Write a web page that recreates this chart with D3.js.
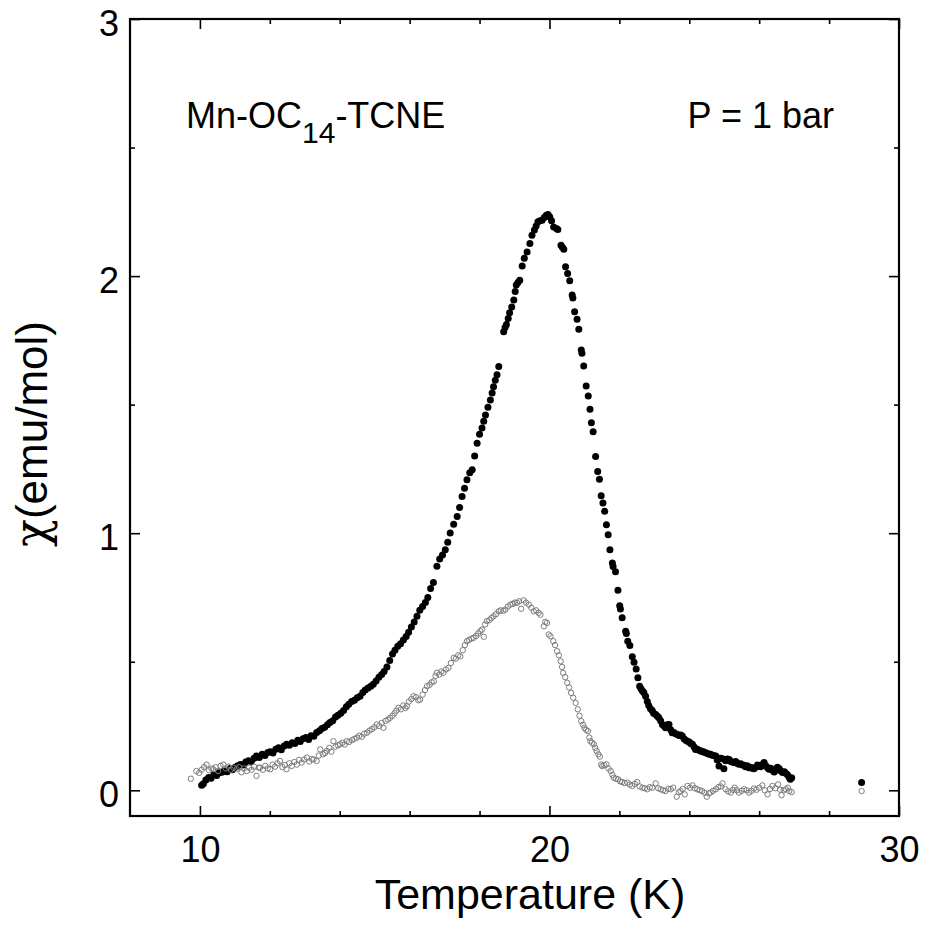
<!DOCTYPE html>
<html><head><meta charset="utf-8">
<script src="https://cdn.jsdelivr.net/npm/d3@7"></script>
<style>body{margin:0;background:#fff}svg{display:block}text{font-family:"Liberation Sans",Arial,sans-serif;fill:#000}</style>
</head><body>
<svg id="c" width="926" height="936"></svg>
<script>
// ---- data: [Temperature (K), chi (emu/mol)] ----
const chiFilled = [
[10.05,0.020],[10.10,0.025],[10.17,0.040],[10.25,0.050],[10.32,0.047],[10.40,0.060],[10.48,0.058],[10.55,0.068],[10.63,0.070],[10.70,0.075],
[10.78,0.072],[10.86,0.085],[10.93,0.080],[11.01,0.090],[11.08,0.095],[11.16,0.100],[11.24,0.098],[11.31,0.110],[11.39,0.115],[11.47,0.112],
[11.55,0.125],[11.62,0.133],[11.70,0.128],[11.78,0.140],[11.86,0.135],[11.94,0.147],[12.01,0.150],[12.09,0.145],[12.17,0.160],[12.25,0.165],
[12.33,0.158],[12.41,0.172],[12.48,0.179],[12.56,0.175],[12.64,0.185],[12.72,0.182],[12.80,0.195],[12.87,0.190],[12.95,0.200],[13.03,0.205],
[13.11,0.198],[13.18,0.212],[13.26,0.210],[13.34,0.225],[13.42,0.232],[13.49,0.240],[13.57,0.245],[13.65,0.255],[13.72,0.264],[13.80,0.270],
[13.88,0.285],[13.95,0.292],[14.03,0.300],[14.11,0.310],[14.19,0.325],[14.26,0.335],[14.34,0.345],[14.42,0.350],[14.50,0.360],[14.58,0.366],
[14.66,0.380],[14.73,0.390],[14.81,0.398],[14.89,0.405],[14.96,0.412],[15.04,0.425],[15.12,0.440],[15.20,0.450],[15.27,0.462],[15.35,0.480],
[15.43,0.505],[15.51,0.530],[15.58,0.545],[15.66,0.560],[15.74,0.570],[15.82,0.585],[15.90,0.598],[15.97,0.615],[16.05,0.635],[16.13,0.655],
[16.21,0.677],[16.29,0.700],[16.37,0.715],[16.45,0.730],[16.52,0.750],[16.60,0.785],[16.68,0.808],[16.78,0.871],[16.86,0.900],[16.94,0.915],
[17.02,0.936],[17.09,0.965],[17.16,1.001],[17.26,1.035],[17.36,1.065],[17.43,1.100],[17.50,1.143],[17.57,1.175],[17.64,1.208],[17.72,1.235],
[17.79,1.247],[17.86,1.300],[17.93,1.350],[18.00,1.385],[18.07,1.409],[18.12,1.435],[18.17,1.460],[18.24,1.490],[18.31,1.518],[18.36,1.545],
[18.40,1.570],[18.45,1.595],[18.50,1.616],[18.55,1.648],[18.69,1.784],[18.73,1.800],[18.77,1.812],[18.82,1.835],[18.86,1.857],[18.92,1.880],
[18.98,1.907],[19.02,1.940],[19.05,1.965],[19.10,1.975],[19.15,1.984],[19.22,2.039],[19.28,2.069],[19.36,2.094],[19.44,2.127],[19.50,2.159],
[19.57,2.179],[19.62,2.195],[19.67,2.211],[19.73,2.215],[19.79,2.217],[19.85,2.228],[19.91,2.237],[19.96,2.240],[20.01,2.230],[20.06,2.215],
[20.12,2.191],[20.20,2.185],[20.24,2.181],[20.33,2.120],[20.37,2.112],[20.41,2.104],[20.46,2.036],[20.52,2.010],[20.58,1.982],[20.65,1.926],
[20.67,1.915],[20.72,1.861],[20.79,1.832],[20.84,1.793],[20.91,1.713],[20.93,1.700],[20.98,1.650],[21.05,1.573],[21.11,1.534],[21.16,1.482],
[21.20,1.430],[21.25,1.395],[21.32,1.298],[21.38,1.240],[21.43,1.210],[21.48,1.146],[21.53,1.117],[21.58,1.085],[21.63,1.033],[21.68,0.994],
[21.73,0.936],[21.80,0.884],[21.82,0.870],[21.89,0.850],[21.96,0.778],[22.01,0.718],[22.03,0.705],[22.08,0.671],[22.18,0.619],[22.20,0.610],
[22.24,0.580],[22.30,0.563],[22.37,0.519],[22.42,0.498],[22.48,0.472],[22.53,0.438],[22.58,0.405],[22.62,0.395],[22.66,0.386],[22.70,0.380],
[22.75,0.366],[22.80,0.345],[22.84,0.330],[22.89,0.317],[22.94,0.310],[22.98,0.300],[23.04,0.295],[23.09,0.288],[23.13,0.282],[23.18,0.270],
[23.23,0.256],[23.28,0.250],[23.32,0.243],[23.37,0.255],[23.42,0.256],[23.47,0.235],[23.51,0.224],[23.56,0.225],[23.61,0.220],[23.66,0.217],
[23.71,0.213],[23.75,0.215],[23.80,0.211],[23.85,0.200],[23.90,0.195],[23.95,0.191],[24.00,0.188],[24.04,0.182],[24.09,0.179],[24.14,0.168],
[24.18,0.159],[24.23,0.160],[24.28,0.156],[24.33,0.153],[24.38,0.150],[24.42,0.149],[24.47,0.146],[24.52,0.143],[24.57,0.140],[24.61,0.140],
[24.66,0.136],[24.71,0.134],[24.76,0.133],[24.80,0.118],[24.85,0.094],[24.90,0.125],[24.95,0.123],[24.99,0.084],[25.04,0.115],[25.09,0.122],
[25.14,0.120],[25.19,0.112],[25.23,0.110],[25.28,0.108],[25.33,0.112],[25.38,0.104],[25.42,0.101],[25.47,0.103],[25.52,0.098],[25.57,0.097],
[25.61,0.092],[25.66,0.095],[25.71,0.088],[25.76,0.090],[25.80,0.086],[25.85,0.084],[25.90,0.090],[25.95,0.098],[26.00,0.094],[26.05,0.092],
[26.09,0.100],[26.14,0.108],[26.19,0.095],[26.24,0.088],[26.28,0.082],[26.33,0.086],[26.38,0.078],[26.43,0.071],[26.47,0.080],[26.52,0.090],
[26.57,0.085],[26.62,0.075],[26.67,0.069],[26.72,0.072],[26.76,0.066],[26.81,0.060],[26.86,0.050],[26.89,0.043],[26.93,0.049],[28.93,0.030]
];
const chiOpen = [
[9.74,0.045],[9.90,0.075],[9.98,0.068],[10.05,0.080],[10.12,0.090],[10.19,0.100],[10.26,0.078],[10.33,0.085],[10.38,0.082],[10.45,0.090],
[10.52,0.075],[10.59,0.095],[10.67,0.100],[10.74,0.085],[10.81,0.092],[10.89,0.080],[10.96,0.088],[11.05,0.082],[11.12,0.090],[11.19,0.070],
[11.26,0.085],[11.34,0.075],[11.41,0.088],[11.48,0.080],[11.55,0.092],[11.62,0.056],[11.68,0.088],[11.72,0.088],[11.80,0.080],[11.87,0.095],
[11.94,0.085],[12.01,0.082],[12.08,0.100],[12.15,0.092],[12.22,0.105],[12.29,0.114],[12.36,0.090],[12.43,0.098],[12.48,0.082],[12.56,0.105],
[12.63,0.095],[12.70,0.110],[12.77,0.100],[12.84,0.118],[12.91,0.108],[12.98,0.120],[13.06,0.127],[13.13,0.112],[13.20,0.122],[13.25,0.120],
[13.34,0.114],[13.40,0.135],[13.44,0.159],[13.52,0.140],[13.58,0.145],[13.63,0.153],[13.70,0.165],[13.76,0.150],[13.82,0.191],[13.88,0.170],
[13.95,0.175],[14.01,0.179],[14.08,0.185],[14.14,0.178],[14.20,0.191],[14.27,0.188],[14.35,0.195],[14.42,0.200],[14.49,0.205],[14.56,0.212],
[14.63,0.208],[14.70,0.220],[14.78,0.224],[14.85,0.232],[14.92,0.238],[14.99,0.245],[15.06,0.256],[15.13,0.250],[15.20,0.262],[15.25,0.243],
[15.31,0.270],[15.38,0.275],[15.44,0.282],[15.51,0.290],[15.57,0.300],[15.62,0.310],[15.68,0.321],[15.75,0.315],[15.82,0.330],[15.88,0.320],
[15.92,0.327],[15.98,0.345],[16.05,0.355],[16.11,0.366],[16.18,0.362],[16.25,0.350],[16.30,0.353],[16.37,0.372],[16.44,0.390],[16.50,0.405],
[16.57,0.410],[16.63,0.420],[16.69,0.424],[16.74,0.445],[16.78,0.457],[16.85,0.450],[16.91,0.462],[16.97,0.457],[17.04,0.470],[17.11,0.476],
[17.18,0.495],[17.26,0.515],[17.32,0.512],[17.39,0.525],[17.45,0.521],[17.52,0.545],[17.58,0.565],[17.64,0.580],[17.70,0.585],[17.77,0.590],
[17.83,0.593],[17.90,0.600],[17.96,0.610],[18.02,0.619],[18.07,0.625],[18.12,0.597],[18.16,0.645],[18.21,0.658],[18.28,0.662],[18.34,0.670],
[18.40,0.677],[18.47,0.685],[18.55,0.696],[18.61,0.700],[18.68,0.698],[18.74,0.703],[18.81,0.715],[18.88,0.722],[18.95,0.725],[19.01,0.730],
[19.07,0.729],[19.13,0.735],[19.19,0.706],[19.26,0.739],[19.33,0.730],[19.41,0.722],[19.48,0.710],[19.55,0.696],[19.62,0.700],[19.69,0.690],
[19.74,0.683],[19.84,0.638],[19.88,0.655],[19.93,0.651],[19.98,0.606],[20.03,0.599],[20.11,0.580],[20.16,0.565],[20.22,0.541],[20.27,0.525],
[20.32,0.502],[20.36,0.480],[20.39,0.457],[20.45,0.440],[20.51,0.418],[20.56,0.400],[20.62,0.379],[20.68,0.360],[20.75,0.340],[20.81,0.315],
[20.86,0.290],[20.91,0.269],[20.96,0.255],[21.00,0.243],[21.05,0.235],[21.10,0.230],[21.14,0.205],[21.17,0.191],[21.22,0.185],[21.27,0.179],
[21.31,0.165],[21.35,0.153],[21.40,0.140],[21.44,0.131],[21.48,0.100],[21.51,0.094],[21.57,0.098],[21.63,0.101],[21.69,0.085],[21.75,0.075],
[21.80,0.060],[21.84,0.049],[21.90,0.045],[21.96,0.043],[22.02,0.035],[22.08,0.032],[22.15,0.028],[22.23,0.030],[22.30,0.022],[22.37,0.017],
[22.44,0.025],[22.51,0.032],[22.58,0.015],[22.66,0.010],[22.73,0.008],[22.80,0.004],[22.87,0.012],[22.94,0.010],[23.04,0.027],[23.11,0.008],
[23.18,0.004],[23.25,0.000],[23.32,-0.003],[23.40,0.006],[23.47,0.004],[23.54,0.010],[23.64,-0.025],[23.70,-0.008],[23.75,-0.003],[23.81,0.005],
[23.87,-0.016],[23.95,0.017],[24.02,0.010],[24.09,0.019],[24.16,0.008],[24.23,0.004],[24.30,0.000],[24.37,-0.003],[24.44,-0.010],[24.50,-0.025],
[24.56,-0.012],[24.61,-0.009],[24.68,-0.002],[24.76,0.004],[24.83,0.012],[24.90,0.015],[24.95,0.027],[25.04,0.004],[25.11,-0.004],[25.19,-0.009],
[25.25,0.002],[25.30,0.010],[25.36,0.000],[25.42,-0.009],[25.50,-0.002],[25.57,0.004],[25.64,0.000],[25.71,-0.009],[25.78,-0.002],[25.85,0.007],
[25.92,0.002],[26.00,0.010],[26.09,0.019],[26.16,0.000],[26.24,-0.016],[26.31,0.005],[26.38,0.017],[26.46,0.008],[26.54,0.023],[26.60,0.002],
[26.64,-0.019],[26.70,0.000],[26.76,0.004],[26.82,0.010],[26.86,-0.003],[26.93,-0.007],[28.93,-0.003]
];
const xDomain = [8, 30];
const yDomain = [-0.1, 3];
const xMajorTicks = [10, 20, 30];
const xMinorTicks = [12, 14, 16, 18, 22, 24, 26, 28];
const yMajorTicks = [0, 1, 2, 3];
const yMinorTicks = [0.5, 1.5, 2.5];
const xTitle = "Temperature (K)";
const yTitleSym = "χ";
const yTitleRest = "(emu/mol)";
const sampleName = ["Mn-OC", "14", "-TCNE"];
const pressureLabel = "P = 1 bar";

// ---- layout ----
const L = 130, R = 899, T = 19, B = 816;
const svg = d3.select("#c");
const x = d3.scaleLinear().domain(xDomain).range([L, R]);
const y = d3.scaleLinear().domain(yDomain).range([B, T]);

const tickStyle = g => { g.select(".domain").remove(); g.selectAll("line").attr("stroke","#000").attr("stroke-width",1.6); };
const noLabels = g => g.selectAll("text").remove();
const labelStyle = g => g.selectAll("text").attr("font-size",36).attr("font-family","Liberation Sans, Arial, sans-serif").attr("fill","#000");

// bottom
svg.append("g").attr("transform",`translate(0,${B})`)
  .call(d3.axisBottom(x).tickValues(xMajorTicks).tickSize(-10).tickPadding(20).tickFormat(d3.format("d")))
  .call(tickStyle).call(labelStyle);
svg.append("g").attr("transform",`translate(0,${B})`)
  .call(d3.axisBottom(x).tickValues(xMinorTicks).tickSize(-5)).call(tickStyle).call(noLabels);
// top
svg.append("g").attr("transform",`translate(0,${T})`)
  .call(d3.axisTop(x).tickValues(xMajorTicks).tickSize(-10)).call(tickStyle).call(noLabels);
svg.append("g").attr("transform",`translate(0,${T})`)
  .call(d3.axisTop(x).tickValues(xMinorTicks).tickSize(-5)).call(tickStyle).call(noLabels);
// left
svg.append("g").attr("transform",`translate(${L},0)`)
  .call(d3.axisLeft(y).tickValues(yMajorTicks).tickSize(-10).tickPadding(11).tickFormat(d3.format("d")))
  .call(tickStyle).call(labelStyle)
  .call(g => g.selectAll("text").attr("dy","0.46em"));
svg.append("g").attr("transform",`translate(${L},0)`)
  .call(d3.axisLeft(y).tickValues(yMinorTicks).tickSize(-5)).call(tickStyle).call(noLabels);
// right
svg.append("g").attr("transform",`translate(${R},0)`)
  .call(d3.axisRight(y).tickValues(yMajorTicks).tickSize(-10)).call(tickStyle).call(noLabels);
svg.append("g").attr("transform",`translate(${R},0)`)
  .call(d3.axisRight(y).tickValues(yMinorTicks).tickSize(-5)).call(tickStyle).call(noLabels);

// frame
svg.append("rect").attr("x",L).attr("y",T).attr("width",R-L).attr("height",B-T)
  .attr("fill","none").attr("stroke","#000").attr("stroke-width",2.2);

// data
svg.append("g").selectAll("circle").data(chiFilled).join("circle")
  .attr("cx",d=>x(d[0])).attr("cy",d=>y(d[1])).attr("r",3.5).attr("fill","#000");
svg.append("g").selectAll("circle").data(chiOpen).join("circle")
  .attr("cx",d=>x(d[0])).attr("cy",d=>y(d[1])).attr("r",2.7)
  .attr("fill","none").attr("stroke","#7d7d7d").attr("stroke-width",1);

// titles
svg.append("text").attr("x",530).attr("y",909).attr("text-anchor","middle")
  .attr("font-size",43).text(xTitle);
const yt = svg.append("text").attr("transform","translate(47,434) rotate(-90)").attr("text-anchor","middle").attr("font-size",44);
yt.append("tspan").attr("font-family","DejaVu Serif, serif").attr("font-size",46).text(yTitleSym);
yt.append("tspan").text(yTitleRest);

// annotations
const ann = svg.append("text").attr("x",186).attr("y",128).attr("font-size",36);
ann.append("tspan").text(sampleName[0]);
ann.append("tspan").attr("font-size",30).attr("dy",15).text(sampleName[1]);
ann.append("tspan").attr("dy",-15).text(sampleName[2]);
svg.append("text").attr("x",834).attr("y",128).attr("text-anchor","end").attr("font-size",36).text(pressureLabel);
</script>
</body></html>
